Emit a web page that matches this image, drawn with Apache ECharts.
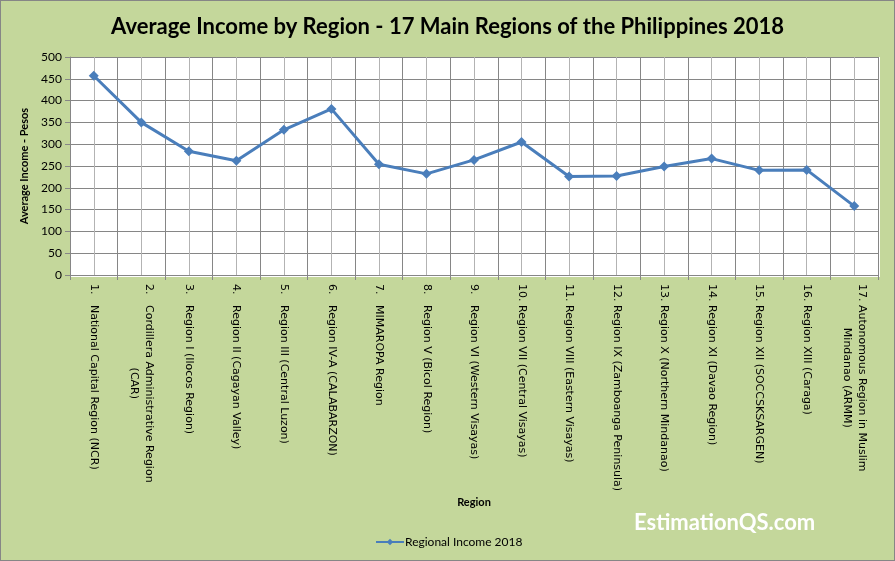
<!DOCTYPE html>
<html><head><meta charset="utf-8">
<script src="https://cdn.jsdelivr.net/npm/echarts@6/dist/echarts.min.js"></script>
<style>html,body{margin:0;padding:0;background:#c4d79b}#c{width:895px;height:561px;box-sizing:border-box;border:1px solid #868686}</style>
</head><body><div id="c"></div>
<script>
const titleText = 'Average Income by Region - 17 Main Regions of the Philippines 2018';
const categories = [
  '1.   National Capital Region (NCR)',
  '2.   Cordillera Administrative Region\n(CAR)',
  '3.   Region I (Ilocos Region)',
  '4.   Region II (Cagayan Valley)',
  '5.   Region III (Central Luzon)',
  '6.   Region IV-A (CALABARZON)',
  '7.   MIMAROPA Region',
  '8.   Region V (Bicol Region)',
  '9.   Region VI (Western Visayas)',
  '10. Region VII (Central Visayas)',
  '11. Region VIII (Eastern Visayas)',
  '12. Region IX (Zamboanga Peninsula)',
  '13. Region X (Northern Mindanao)',
  '14. Region XI (Davao Region)',
  '15. Region XII (SOCCSKSARGEN)',
  '16. Region XIII (Caraga)',
  '17. Autonomous Region in Muslim\nMindanao (ARMM)'
];
const seriesName = 'Regional Income 2018';
const income = [457, 350, 284, 262, 333, 381, 254, 232, 264, 305, 226, 227, 249, 267, 240, 241, 158];
const yTicks = {min: 0, max: 500, interval: 50};

const chart = echarts.init(document.getElementById('c'));
const font = 'Lato, "Open Sans", sans-serif';
const lblFont = '"DejaVu Sans", sans-serif';
chart.setOption({
  backgroundColor: '#c4d79b',
  animation: false,
  title: {text: titleText, left: 'center', top: 10,
    textStyle: {fontFamily: font, fontWeight: 'bold', fontSize: 22, color: '#000'}},
  grid: {left: 69, right: 16, top: 56, bottom: 285},
  legend: {bottom: 12, left: 374, padding: 0, itemWidth: 28, itemHeight: 8, itemGap: 4,
    textStyle: {fontFamily: font, fontSize: 12, color: '#000', padding: [0, 0, 0, -4]},
    data: [seriesName]},
  xAxis: [{
    type: 'category', data: categories, boundaryGap: true,
    name: 'Region', nameLocation: 'middle', nameGap: 222,
    nameTextStyle: {fontFamily: font, fontWeight: 'bold', fontSize: 11, color: '#000'},
    axisLine: {lineStyle: {color: '#868686', width: 1}},
    axisTick: {show: true, length: 5, lineStyle: {color: '#868686'}},
    axisLabel: {interval: 0, rotate: -90, margin: 9, color: '#000',
      formatter: function (v) {
        return v.split('\n').map(function (l, i) { return i === 0 ? '{a|' + l + '}' : '{c|' + l + '}'; }).join('\n');
      },
      rich: {
        a: {fontFamily: lblFont, fontSize: 11, color: '#000', lineHeight: 15},
        c: {fontFamily: lblFont, fontSize: 11, color: '#000', lineHeight: 15, align: 'center'}
      }},
    splitLine: {show: true, lineStyle: {color: '#868686', width: 1}}
  }, {
    type: 'category', data: categories, boundaryGap: true, position: 'bottom',
    axisLine: {show: false}, axisTick: {show: false}, axisLabel: {show: false},
    splitLine: {show: true, alignWithLabel: true, interval: 0, lineStyle: {color: '#b3b3b3', width: 1}}
  }],
  yAxis: {
    type: 'value', min: yTicks.min, max: yTicks.max, interval: yTicks.interval,
    name: 'Average Income - Pesos', nameLocation: 'middle', nameGap: 38,
    nameTextStyle: {fontFamily: font, fontWeight: 'bold', fontSize: 11, color: '#000'},
    axisLine: {show: true, lineStyle: {color: '#868686'}},
    axisTick: {show: true, length: 5, lineStyle: {color: '#868686'}},
    axisLabel: {fontFamily: font, fontSize: 12, color: '#000', margin: 8},
    splitLine: {show: true, lineStyle: {color: '#868686', width: 1}}
  },
  graphic: [{type: 'rect', left: 69, top: 56, shape: {width: 810, height: 220}, style: {fill: '#fff'}, z: -1, silent: true},
    {type: 'text', left: 633, top: 511, style: {text: 'EstimationQS.com', fill: '#fff', font: 'bold 22px ' + font}}],
  series: [{
    name: seriesName, type: 'line', data: income,
    symbol: 'diamond', symbolSize: 10,
    lineStyle: {color: '#4a7ebb', width: 3},
    itemStyle: {color: '#4a7ebb'}
  }]
});
</script></body></html>
